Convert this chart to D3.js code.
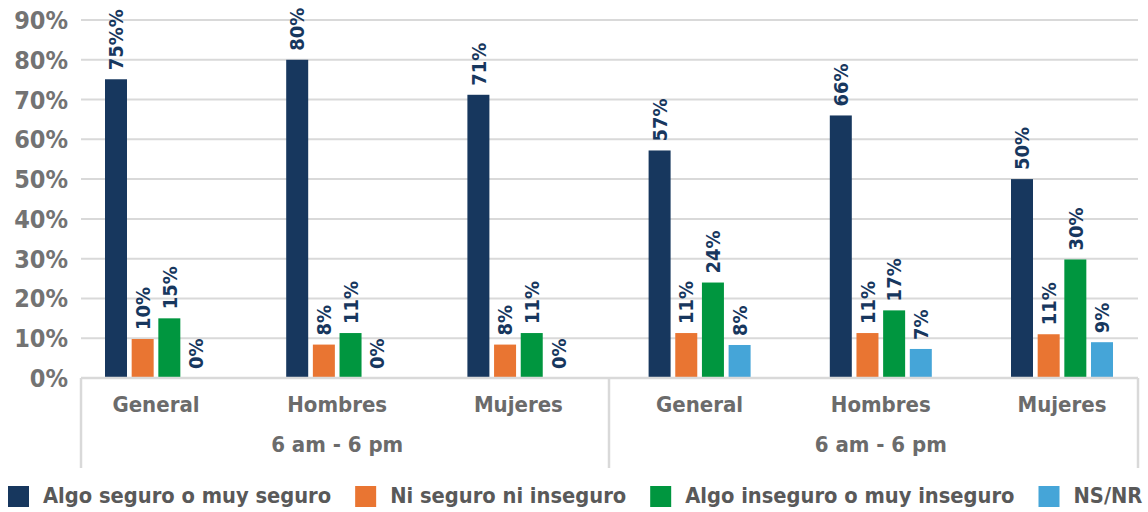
<!DOCTYPE html>
<html>
<head>
<meta charset="utf-8">
<script src="https://cdn.jsdelivr.net/npm/d3@7"></script>
<style>
  body { margin: 0; background: #fff; }
  svg { font-family: "DejaVu Sans Condensed", "DejaVu Sans", sans-serif; font-weight: bold; }
</style>
</head>
<body>
<div id="chart"></div>
<script>
const categories = ["General", "Hombres", "Mujeres", "General", "Hombres", "Mujeres"];
const groupLabels = ["6 am - 6 pm", "6 am - 6 pm"];
const seriesNames = ["Algo seguro o muy seguro", "Ni seguro ni inseguro", "Algo inseguro o muy inseguro", "NS/NR"];
const colors = ["#17375e", "#e97532", "#00963f", "#45a5d8"];

const seguro = [0.751, 0.80, 0.712, 0.572, 0.66, 0.50];
const niSeguro = [0.098, 0.084, 0.084, 0.113, 0.113, 0.11];
const inseguro = [0.15, 0.113, 0.113, 0.24, 0.17, 0.298];
const nsnr = [0, 0, 0, 0.083, 0.073, 0.09];
// the first label in the original reads "75%%"
const seguroLabels = ["75%%", "80%", "71%", "57%", "66%", "50%"];

const yTicks = [0, 0.1, 0.2, 0.3, 0.4, 0.5, 0.6, 0.7, 0.8, 0.9];

const width = 1148, height = 512;
const plotLeft = 81, plotRight = 1138, axisY = 378;

const series = [seguro, niSeguro, inseguro, nsnr];
const fmt = d3.format(".0%");

const svg = d3.select("#chart")
    .append("svg")
    .attr("width", width)
    .attr("height", height);

const y = d3.scaleLinear()
    .domain([0, 0.9])
    .range([axisY, 20]);

const x0 = d3.scaleBand()
    .domain(d3.range(categories.length))
    .range([65.4, 1152.6]);

const x1 = d3.scaleBand()
    .domain(d3.range(seriesNames.length))
    .range([-51, 51])
    .paddingInner(0.175);

const center = (i) => x0(i) + x0.bandwidth() / 2;

//gridlines
svg.append("g")
    .selectAll("line")
    .data(yTicks.filter((d) => d > 0))
    .enter()
    .append("line")
    .attr("x1", plotLeft)
    .attr("x2", plotRight)
    .attr("y1", (d) => y(d))
    .attr("y2", (d) => y(d))
    .attr("stroke", "#d9d9d9")
    .attr("stroke-width", 2);

//y tick labels
svg.append("g")
    .selectAll("text")
    .data(yTicks)
    .enter()
    .append("text")
    .attr("x", 68)
    .attr("y", (d) => y(d))
    .attr("dy", "0.36em")
    .attr("text-anchor", "end")
    .attr("font-size", 25)
    .attr("fill", "#737373")
    .text((d) => fmt(d));

//bars
const barData = [];
series.forEach((vals, s) => vals.forEach((v, i) => barData.push({ s: s, i: i, v: v })));

svg.append("g")
    .selectAll("rect")
    .data(barData)
    .enter()
    .append("rect")
    .attr("x", (d) => center(d.i) + x1(d.s))
    .attr("y", (d) => y(d.v))
    .attr("width", x1.bandwidth())
    .attr("height", (d) => axisY - y(d.v))
    .attr("fill", (d) => colors[d.s]);

//data labels, rotated
svg.append("g")
    .selectAll("text")
    .data(barData)
    .enter()
    .append("text")
    .attr("transform", (d) => "translate(" + (center(d.i) + x1(d.s) + x1.bandwidth() / 2) + "," + (y(d.v) - 9) + ") rotate(-90)")
    .attr("dy", "0.36em")
    .attr("text-anchor", "start")
    .attr("font-size", 20)
    .attr("fill", "#17375e")
    .text((d) => d.s === 0 ? seguroLabels[d.i] : fmt(d.v));

//x axis line and separators
svg.append("line")
    .attr("x1", plotLeft)
    .attr("x2", plotRight)
    .attr("y1", axisY)
    .attr("y2", axisY)
    .attr("stroke", "#d9d9d9")
    .attr("stroke-width", 2.5);

svg.append("g")
    .selectAll("line")
    .data([plotLeft, x0(3), plotRight])
    .enter()
    .append("line")
    .attr("x1", (d) => d)
    .attr("x2", (d) => d)
    .attr("y1", axisY)
    .attr("y2", 468)
    .attr("stroke", "#d9d9d9")
    .attr("stroke-width", 2.5);

//category labels
svg.append("g")
    .selectAll("text")
    .data(categories)
    .enter()
    .append("text")
    .attr("x", (d, i) => center(i))
    .attr("y", 412)
    .attr("text-anchor", "middle")
    .attr("font-size", 22)
    .attr("fill", "#6b6b6b")
    .text((d) => d);

//group labels, centred under the middle category of each three
svg.append("g")
    .selectAll("text")
    .data(groupLabels)
    .enter()
    .append("text")
    .attr("x", (d, i) => center(i * 3 + 1))
    .attr("y", 452)
    .attr("text-anchor", "middle")
    .attr("font-size", 22)
    .attr("fill", "#6b6b6b")
    .text((d) => d);

//legend
const legend = svg.append("g");
let lx = 8;
seriesNames.forEach((name, s) => {
    legend.append("rect")
        .attr("x", lx)
        .attr("y", 486)
        .attr("width", 21)
        .attr("height", 21)
        .attr("fill", colors[s]);
    const t = legend.append("text")
        .attr("x", lx + 35)
        .attr("y", 503)
        .attr("font-size", 21.7)
        .attr("fill", "#595959")
        .text(name);
    lx += 35 + t.node().getComputedTextLength() + 24;
});
</script>
</body>
</html>
